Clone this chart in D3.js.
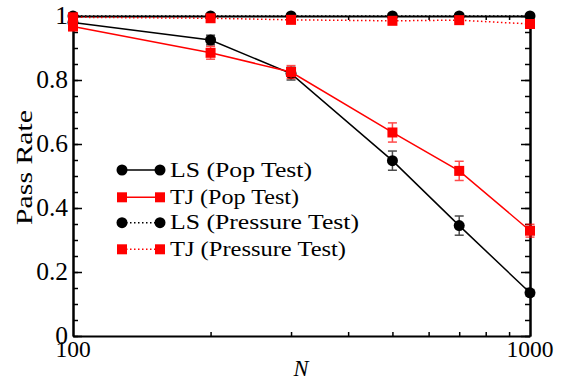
<!DOCTYPE html>
<html><head><meta charset="utf-8">
<script src="https://cdn.jsdelivr.net/npm/d3@7"></script>
<style>body{margin:0;background:#fff}svg{display:block}</style>
</head><body><svg id="c" width="564" height="381" font-family="'Liberation Serif', 'Times New Roman', serif"></svg>
<script>
const N = [100, 200, 300, 500, 700, 1000];
const lsPop = [0.98, 0.925, 0.82, 0.548, 0.345, 0.135];
const lsPopErr = [0.01, 0.015, 0.02, 0.03, 0.03, 0.01];
const tjPop = [0.967, 0.885, 0.825, 0.636, 0.516, 0.329];
const tjPopErr = [0.01, 0.02, 0.02, 0.03, 0.03, 0.02];
const lsPress = [1.0, 1.0, 1.0, 1.0, 1.0, 1.0];
const lsPressErr = [0, 0, 0, 0, 0, 0];
const tjPress = [0.996, 0.993, 0.988, 0.985, 0.987, 0.975];
const tjPressErr = [0.003, 0.004, 0.004, 0.004, 0.004, 0.005];
const yTicks = [0, 0.2, 0.4, 0.6, 0.8, 1];
const yTickLabels = ["0", "0.2", "0.4", "0.6", "0.8", "1"];
const xTicks = [100, 1000];
const xTickLabels = ["100", "1000"];
const legendLabels = ["LS (Pop Test)", "TJ (Pop Test)", "LS (Pressure Test)", "TJ (Pressure Test)"];

const series = [
  {v: lsPop, e: lsPopErr, color: "#000", marker: "circle", dash: null},
  {v: tjPop, e: tjPopErr, color: "#ff0000", marker: "square", dash: null},
  {v: lsPress, e: lsPressErr, color: "#000", marker: "circle", dash: "1.5,2.5"},
  {v: tjPress, e: tjPressErr, color: "#ff0000", marker: "square", dash: "1.5,2.5"}
];

const FONT = "'Liberation Serif', 'Times New Roman', serif";
const svg = d3.select("#c");
const L = 73, R = 530, T = 16, B = 336;
const x = d3.scaleLog().domain([100, 1000]).range([L, R]);
const y = d3.scaleLinear().domain([0, 1]).range([B, T]);

const minorY = d3.range(0, 1.0001, 0.05).map(d => +d.toFixed(2));
const minorX = d3.range(200, 1000, 100);

const g = svg.append("g");
function tickG(axis, vals, len) {
  return axis.tickValues(vals).tickSizeInner(len).tickSizeOuter(0).tickFormat("");
}
const axStyle = sel => { sel.select(".domain").attr("stroke-width", 2); sel.selectAll(".tick line").attr("stroke-width", 1.5); };
g.append("g").attr("transform", `translate(${L},0)`).call(tickG(d3.axisRight(y), minorY, 5)).call(axStyle);
g.append("g").attr("transform", `translate(${L},0)`).call(tickG(d3.axisRight(y), yTicks, 9)).call(axStyle);
g.append("g").attr("transform", `translate(${R},0)`).call(tickG(d3.axisLeft(y), minorY, 5)).call(axStyle);
g.append("g").attr("transform", `translate(${R},0)`).call(tickG(d3.axisLeft(y), yTicks, 9)).call(axStyle);
g.append("g").attr("transform", `translate(0,${B})`).call(tickG(d3.axisTop(x), minorX, 4)).call(axStyle);
g.append("g").attr("transform", `translate(0,${T})`).call(tickG(d3.axisBottom(x), minorX, 4)).call(axStyle);

svg.append("g").attr("font-family", FONT).selectAll("text").data(yTicks).join("text")
  .attr("x", L - 5).attr("y", d => y(d)).attr("dy", "0.33em")
  .attr("text-anchor", "end").attr("font-size", 25.5).text((d, i) => yTickLabels[i]);
svg.append("g").attr("font-family", FONT).selectAll("text").data(xTicks).join("text")
  .attr("x", d => x(d)).attr("y", B + 21)
  .attr("text-anchor", "middle").attr("font-size", 23.5).text((d, i) => xTickLabels[i]);

svg.append("text").attr("font-family", FONT).attr("transform", `translate(32,167.5) rotate(-90)`)
  .attr("text-anchor", "middle").attr("font-size", 22.5)
  .attr("textLength", 115).attr("lengthAdjust", "spacingAndGlyphs").text("Pass Rate");
svg.append("text").attr("font-family", FONT).attr("x", 301).attr("y", 376)
  .attr("text-anchor", "middle").attr("font-size", 22.5).attr("font-style", "italic").text("N");

function drawMarker(sel, type, color, cx, cy) {
  if (type === "circle") sel.append("circle").attr("cx", cx).attr("cy", cy).attr("r", 5.5).attr("fill", color);
  else sel.append("rect").attr("x", cx - 5).attr("y", cy - 5).attr("width", 10).attr("height", 10).attr("fill", color);
}

const line = d3.line().x((d, i) => x(N[i])).y(d => y(d));
series.forEach(s => {
  const sg = svg.append("g");
  sg.append("path").attr("d", line(s.v)).attr("fill", "none").attr("stroke", s.color)
    .attr("stroke-width", 1.5).attr("stroke-dasharray", s.dash);
  s.v.forEach((v, i) => {
    if (s.e[i] > 0) {
      const eg = sg.append("g").attr("stroke", s.color).attr("stroke-width", 1.5).attr("opacity", 0.7);
      const cx = x(N[i]);
      eg.append("line").attr("x1", cx).attr("x2", cx).attr("y1", y(v - s.e[i])).attr("y2", y(v + s.e[i]));
      eg.append("line").attr("x1", cx - 4.5).attr("x2", cx + 4.5).attr("y1", y(v - s.e[i])).attr("y2", y(v - s.e[i]));
      eg.append("line").attr("x1", cx - 4.5).attr("x2", cx + 4.5).attr("y1", y(v + s.e[i])).attr("y2", y(v + s.e[i]));
    }
    drawMarker(sg, s.marker, s.color, x(N[i]), y(v));
  });
});

const lg = svg.append("g");
const rowY = [170, 197.3, 222.7, 249.3];
const legendW = [142, 129, 189, 176];
series.forEach((s, i) => {
  const ry = rowY[i];
  lg.append("line").attr("x1", 122).attr("x2", 160).attr("y1", ry).attr("y2", ry)
    .attr("stroke", s.color).attr("stroke-width", 1.5).attr("stroke-dasharray", s.dash);
  drawMarker(lg, s.marker, s.color, 122, ry);
  drawMarker(lg, s.marker, s.color, 160, ry);
  lg.append("text").attr("font-family", FONT).attr("x", 170).attr("y", ry + 6.5).attr("font-size", 21)
    .attr("textLength", legendW[i]).attr("lengthAdjust", "spacingAndGlyphs").text(legendLabels[i]);
});
</script></body></html>
